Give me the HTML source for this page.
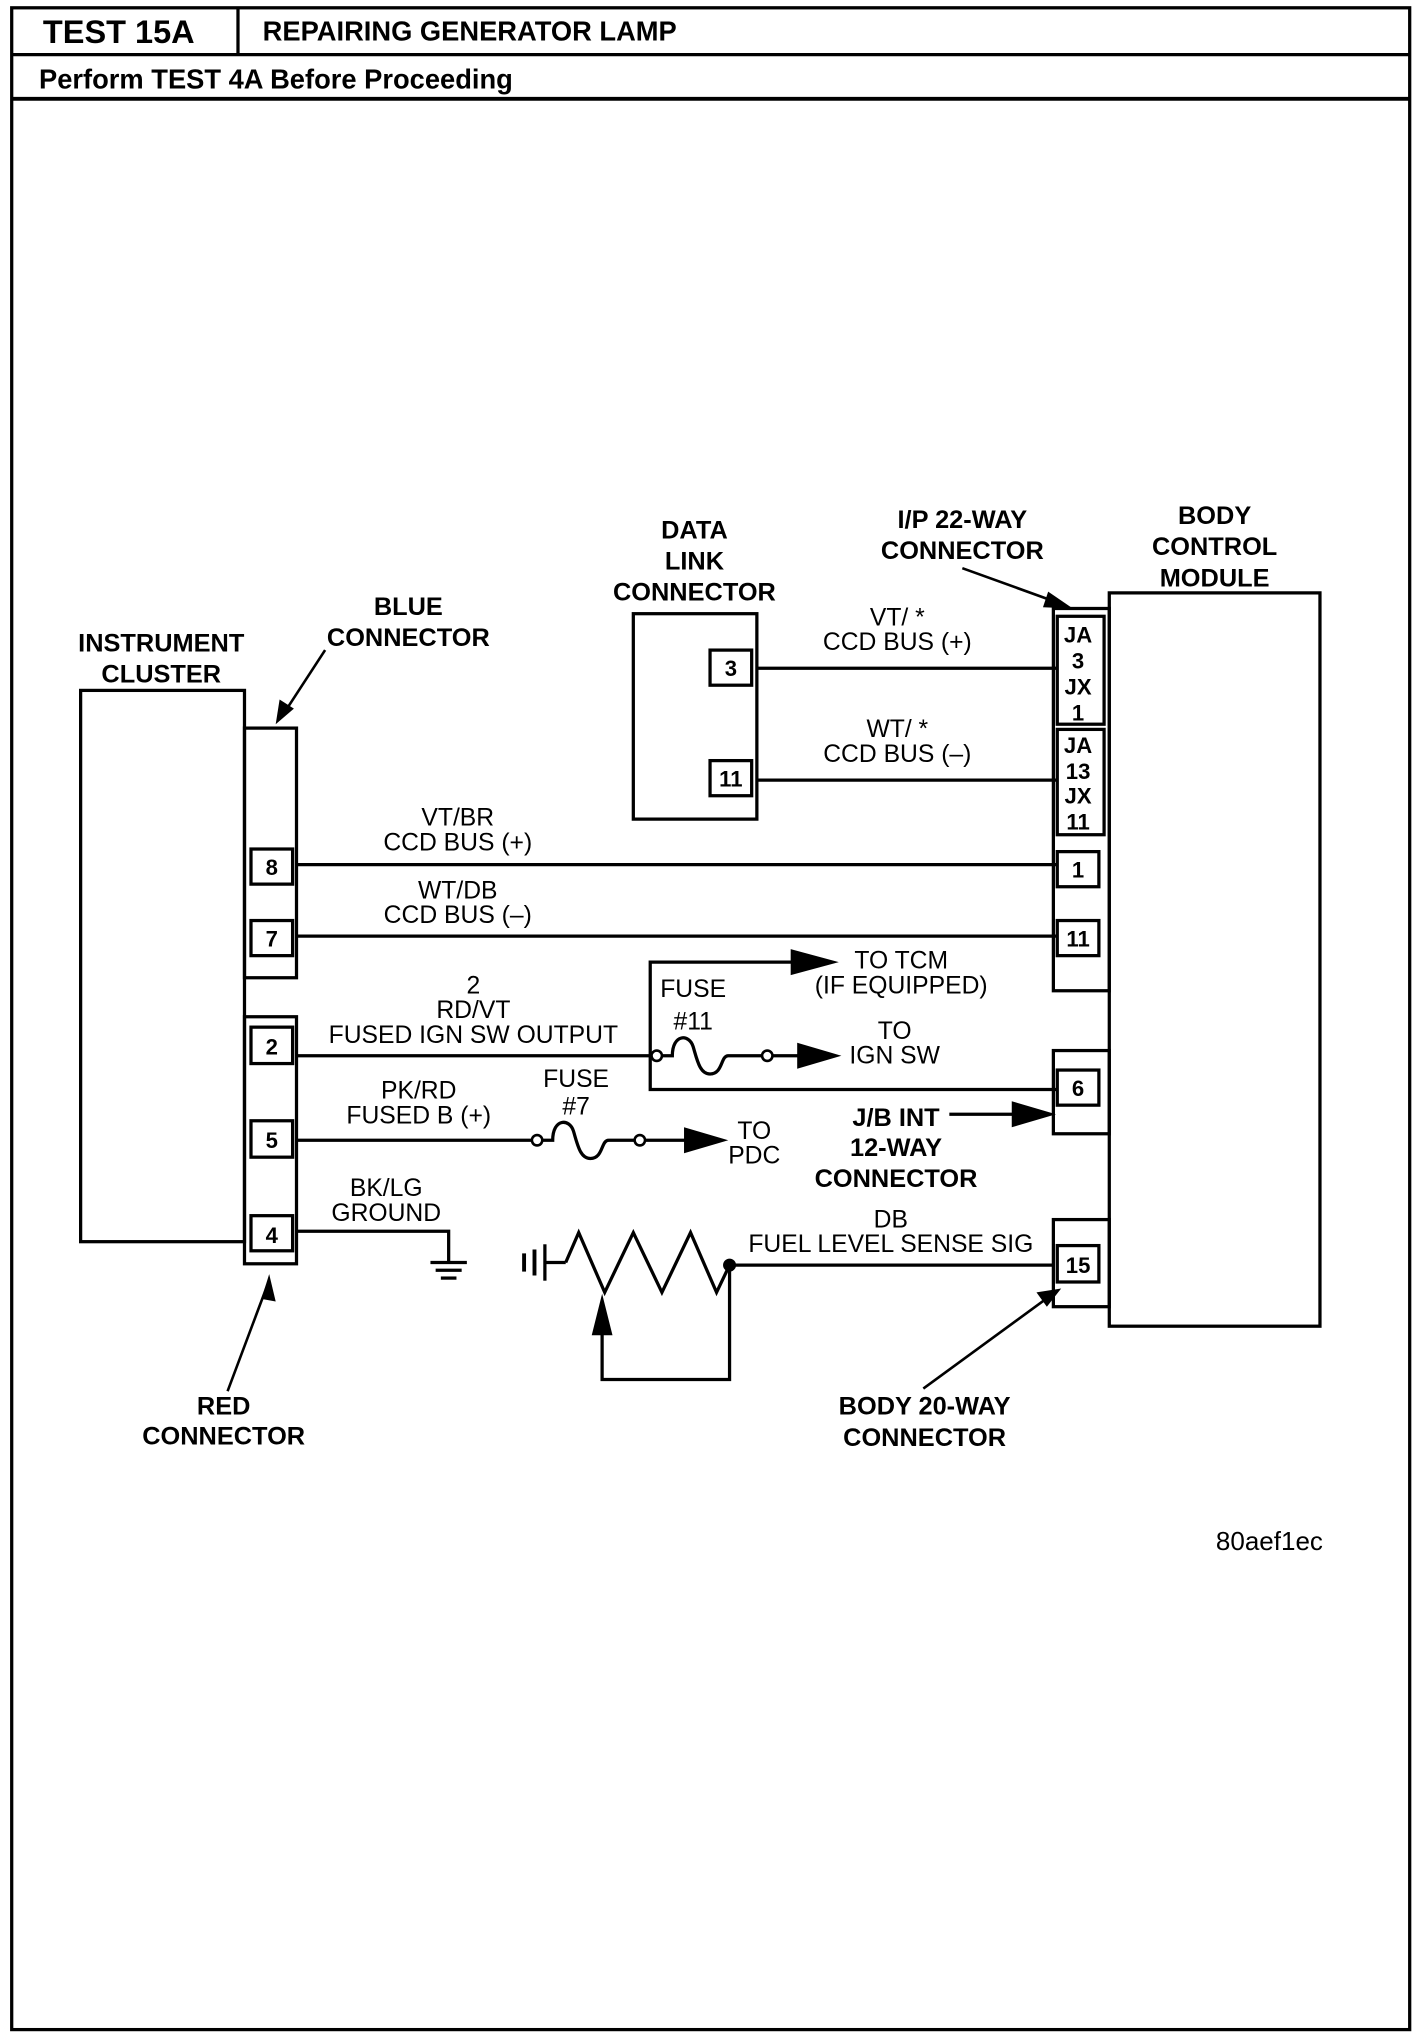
<!DOCTYPE html>
<html><head><meta charset="utf-8"><style>
html,body{margin:0;padding:0;background:#fff}
svg{display:block}
text{font-family:"Liberation Sans",Arial,sans-serif;fill:#000}
.b{font-weight:bold}
</style></head><body>
<svg width="1424" height="2040" viewBox="0 0 1095 1569" preserveAspectRatio="none" xmlns="http://www.w3.org/2000/svg">
<g fill="none" stroke="#000" stroke-width="2.5">
<rect x="9" y="6" width="1075" height="1555"/>
<line x1="9" y1="42" x2="1084" y2="42"/>
<line x1="183" y1="6" x2="183" y2="42"/>
<line x1="9" y1="76" x2="1084" y2="76" stroke-width="3"/>
<rect x="62" y="531" width="126" height="424"/>
<rect x="188" y="560" width="40" height="192"/>
<rect x="193" y="653" width="32" height="27"/>
<rect x="193" y="708" width="32" height="27"/>
<rect x="188" y="782" width="40" height="190"/>
<rect x="193" y="790" width="32" height="28"/>
<rect x="193" y="862" width="32" height="28"/>
<rect x="193" y="935" width="32" height="27"/>
<rect x="853" y="456" width="162" height="564"/>
<rect x="810" y="468" width="43" height="294"/>
<rect x="813" y="474" width="36" height="83"/>
<rect x="813" y="561" width="36" height="81"/>
<rect x="813" y="655" width="32" height="27"/>
<rect x="813" y="708" width="32" height="27"/>
<rect x="810" y="808" width="43" height="64"/>
<rect x="813" y="823" width="32" height="27"/>
<rect x="810" y="938" width="43" height="67"/>
<rect x="813" y="958" width="32" height="28"/>
<rect x="487" y="472" width="95" height="158"/>
<rect x="546" y="500" width="32" height="27"/>
<rect x="546" y="585" width="32" height="27"/>
<line x1="582" y1="514" x2="813" y2="514"/>
<line x1="582" y1="600" x2="813" y2="600"/>
<line x1="228" y1="665" x2="813" y2="665"/>
<line x1="228" y1="720" x2="813" y2="720"/>
<line x1="228" y1="812" x2="502" y2="812"/>
<polyline points="610,740 500,740 500,838 813,838"/>
<line x1="594" y1="812" x2="615" y2="812"/>
<path d="M509,812 H517 C517,795 530,795 533,805 C536,815 538,826 546,826 C556,826 554,812 560,812 H586"/>
<line x1="730" y1="857" x2="780" y2="857"/>
<line x1="228" y1="877" x2="409" y2="877"/>
<path d="M417,877 H425 C425,860 438,860 441,870 C444,880 446,891 454,891 C464,891 462,877 468,877 H488"/>
<line x1="496" y1="877" x2="528" y2="877"/>
<polyline points="228,947 345,947 345,970"/>
<line x1="331" y1="971" x2="359" y2="971"/>
<line x1="335" y1="977" x2="355" y2="977"/>
<line x1="339" y1="983" x2="351" y2="983"/>
<line x1="419" y1="971" x2="435" y2="971"/>
<line x1="419" y1="957" x2="419" y2="985"/>
<line x1="411" y1="961" x2="411" y2="981" stroke-width="3"/>
<line x1="403" y1="964" x2="403" y2="978" stroke-width="3"/>
<polyline points="435,971 445,948 465,994 487,948 509,994 531,948 551,994 561,973 810,973"/>
<polyline points="463,1025 463,1061 561,1061 561,973"/>
<line x1="250" y1="500" x2="220" y2="546" stroke-width="2"/>
<line x1="175" y1="1070" x2="205" y2="990" stroke-width="2"/>
<line x1="740" y1="437" x2="812" y2="463" stroke-width="2"/>
<line x1="710" y1="1068" x2="803" y2="1000" stroke-width="2"/>
</g>
<g fill="#fff" stroke="#000" stroke-width="2">
<circle cx="505" cy="812" r="4"/><circle cx="590" cy="812" r="4"/>
<circle cx="413" cy="877" r="4"/><circle cx="492" cy="877" r="4"/>
</g>
<g fill="#000">
<circle cx="561" cy="973" r="5"/>
<polygon points="608,730 645,740 608,750"/>
<polygon points="613,802 647,812 613,822"/>
<polygon points="778,847 812,857 778,867"/>
<polygon points="526,867 560,877 526,887"/>
<polygon points="455,1027 463,995 471,1027"/>
<polygon points="212,557 215,538 226,545"/>
<polygon points="207,980 201,999 212,1001"/>
<polygon points="825,468 806,455 802,467"/>
<polygon points="816,991 797,994 805,1005"/>
</g>
<text x="33" y="33" class="b" font-size="25">TEST 15A</text>
<text x="202" y="31" class="b" font-size="21">REPAIRING GENERATOR LAMP</text>
<text x="30" y="68" class="b" font-size="21">Perform TEST 4A Before Proceeding</text>
<g font-size="19.5" class="b" text-anchor="middle">
<text x="124" y="501">INSTRUMENT</text><text x="124" y="525">CLUSTER</text>
<text x="314" y="473">BLUE</text><text x="314" y="497">CONNECTOR</text>
<text x="534" y="414">DATA</text><text x="534" y="438">LINK</text><text x="534" y="462">CONNECTOR</text>
<text x="740" y="406">I/P 22-WAY</text><text x="740" y="430">CONNECTOR</text>
<text x="934" y="403">BODY</text><text x="934" y="427">CONTROL</text><text x="934" y="451">MODULE</text>
<text x="689" y="866">J/B INT</text><text x="689" y="889">12-WAY</text><text x="689" y="913">CONNECTOR</text>
<text x="172" y="1088">RED</text><text x="172" y="1111">CONNECTOR</text>
<text x="711" y="1088">BODY 20-WAY</text><text x="711" y="1112">CONNECTOR</text>
</g>
<g font-size="17" class="b" text-anchor="middle">
<text x="209" y="673">8</text><text x="209" y="728">7</text>
<text x="209" y="811">2</text><text x="209" y="883">5</text><text x="209" y="956">4</text>
<text x="562" y="520">3</text><text x="562" y="605">11</text>
<text x="829" y="494">JA</text><text x="829" y="514">3</text><text x="829" y="534">JX</text><text x="829" y="554">1</text>
<text x="829" y="579">JA</text><text x="829" y="599">13</text><text x="829" y="618">JX</text><text x="829" y="638">11</text>
<text x="829" y="675">1</text><text x="829" y="728">11</text><text x="829" y="843">6</text><text x="829" y="979">15</text>
</g>
<g font-size="19" text-anchor="middle">
<text x="352" y="635">VT/BR</text><text x="352" y="654">CCD BUS (+)</text>
<text x="352" y="691">WT/DB</text><text x="352" y="710">CCD BUS (–)</text>
<text x="690" y="481">VT/ *</text><text x="690" y="500">CCD BUS (+)</text>
<text x="690" y="567">WT/ *</text><text x="690" y="586">CCD BUS (–)</text>
<text x="364" y="764">2</text><text x="364" y="783">RD/VT</text><text x="364" y="802">FUSED IGN SW OUTPUT</text>
<text x="533" y="767">FUSE</text><text x="533" y="792">#11</text>
<text x="693" y="745">TO TCM</text><text x="693" y="764">(IF EQUIPPED)</text>
<text x="688" y="799">TO</text><text x="688" y="818">IGN SW</text>
<text x="322" y="845">PK/RD</text><text x="322" y="864">FUSED B (+)</text>
<text x="443" y="836">FUSE</text><text x="443" y="857">#7</text>
<text x="580" y="876">TO</text><text x="580" y="895">PDC</text>
<text x="297" y="920">BK/LG</text><text x="297" y="939">GROUND</text>
<text x="685" y="944">DB</text><text x="685" y="963">FUEL LEVEL SENSE SIG</text>
</g>
<text x="935" y="1192" font-size="20">80aef1ec</text>
</svg>
</body></html>
